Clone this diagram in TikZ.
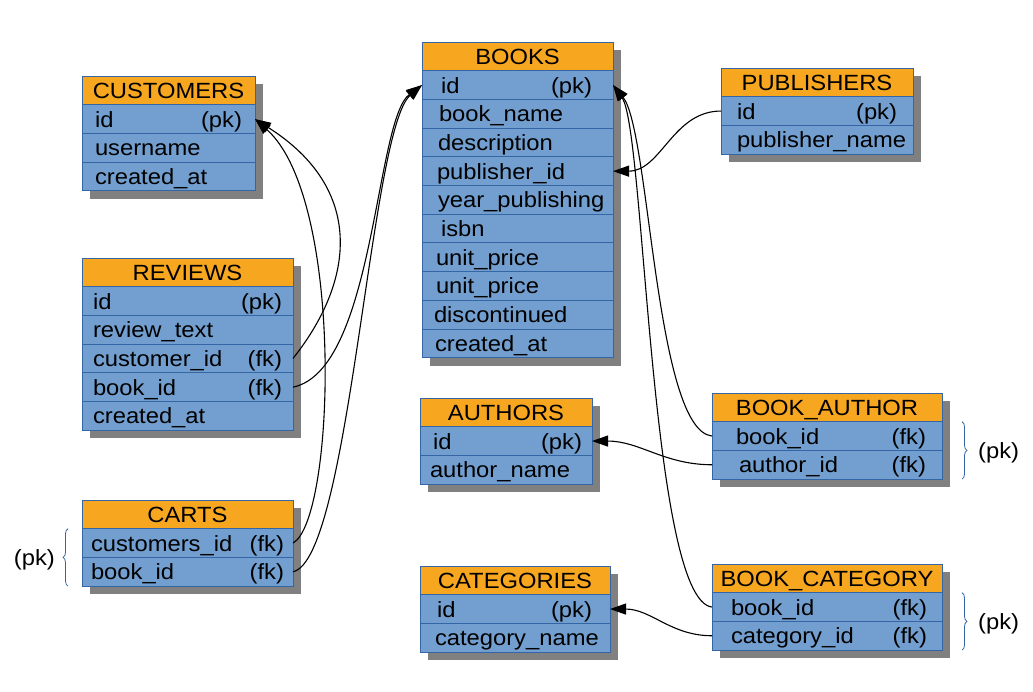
\documentclass[tikz,border=0pt]{standalone}
\usepackage{fontspec}
\setmainfont{Liberation Sans}[FakeStretch=1.08]
\usetikzlibrary{positioning,arrows.meta,backgrounds,decorations.pathreplacing}

\definecolor{hdrorange}{RGB}{247,166,32}
\definecolor{rowblue}{RGB}{114,159,207}
\definecolor{tblborder}{RGB}{52,101,164}
\definecolor{shadowgray}{RGB}{128,128,128}

% no hyphenation inside the table cells
\hyphenpenalty=10000
\exhyphenpenalty=10000

% field name on the left, key mark on the right
\newcommand{\fld}[2]{#1\nobreak\hskip 0pt plus 1filll\relax #2}
% grey drop shadow behind a whole table
\newcommand{\tblshadow}[2]{\fill[shadowgray] ([shift={(8,8)}]#1.north west) rectangle ([shift={(8,8)}]#2.south east);}

\tikzset{
  cell/.style={draw=tblborder, line width=0.9pt, outer sep=0pt, minimum height=28.7pt,
    inner ysep=0pt, text height=16pt, text depth=0pt, font=\fontsize{22}{26}\selectfont},
  hdr/.style={cell, fill=hdrorange, align=center},
  row/.style={cell, fill=rowblue, align=left},
  lbl/.style={inner sep=3pt, text height=16pt, text depth=0pt, font=\fontsize{22}{26}\selectfont},
  link/.style={line width=1.1pt, -{Triangle[length=16pt,width=11pt]}},
  pkbrace/.style={draw=tblborder, line width=0.8pt, decorate, decoration={brace, amplitude=5pt}},
}

\begin{document}
\begin{tikzpicture}[x=1pt, y=-1pt]
\useasboundingbox (0,0) rectangle (1033,692);

% customers
\begin{scope}[row/.append style={inner xsep=13pt, text width=147pt}]
\node[hdr, minimum width=173pt, anchor=north west] (cust) at (82,76) {CUSTOMERS};
\node[row, below=0pt of cust] (cust-id) {\fld{id}{(pk)}};
\node[row, below=0pt of cust-id] (cust-user) {username};
\node[row, below=0pt of cust-user] (cust-created) {created\_at};
\end{scope}

% reviews
\begin{scope}[row/.append style={inner xsep=11pt, text width=189pt}]
\node[hdr, minimum width=211pt, anchor=north west] (rev) at (82,258) {REVIEWS};
\node[row, below=0pt of rev] (rev-id) {\fld{id}{(pk)}};
\node[row, below=0pt of rev-id] (rev-text) {review\_text};
\node[row, below=0pt of rev-text] (rev-cust) {\fld{customer\_id}{(fk)}};
\node[row, below=0pt of rev-cust] (rev-book) {\fld{book\_id}{(fk)}};
\node[row, below=0pt of rev-book] (rev-created) {created\_at};
\end{scope}

% carts
\begin{scope}[row/.append style={inner xsep=9pt, text width=193pt}]
\node[hdr, minimum width=211pt, anchor=north west] (carts) at (82,500) {CARTS};
\node[row, below=0pt of carts] (carts-cust) {\fld{customers\_id}{(fk)}};
\node[row, below=0pt of carts-cust] (carts-book) {\fld{book\_id}{(fk)}};
\end{scope}

% books
\begin{scope}[row/.append style={inner xsep=11pt, text width=169pt}]
\node[hdr, minimum width=191pt, anchor=north west] (books) at (422,42) {BOOKS};
\node[row, below=0pt of books] (books-id) {\fld{\hspace*{8pt}id}{(pk)\kern10pt}};
\node[row, below=0pt of books-id] (books-name) {\hspace*{6pt}book\_name};
\node[row, below=0pt of books-name] (books-desc) {\hspace*{5pt}description};
\node[row, below=0pt of books-desc] (books-pub) {\hspace*{4pt}publisher\_id};
\node[row, below=0pt of books-pub] (books-year) {\hspace*{5pt}year\_publishing};
\node[row, below=0pt of books-year] (books-isbn) {\hspace*{8pt}isbn};
\node[row, below=0pt of books-isbn] (books-price) {\hspace*{3pt}unit\_price};
\node[row, below=0pt of books-price] (books-price2) {\hspace*{3pt}unit\_price};
\node[row, below=0pt of books-price2] (books-disc) {\hspace*{1pt}discontinued};
\node[row, below=0pt of books-disc] (books-created) {\hspace*{2pt}created\_at};
\end{scope}

% publishers
\begin{scope}[row/.append style={inner xsep=11pt, text width=170pt}]
\node[hdr, minimum width=192pt, anchor=north west] (pub) at (721,68) {PUBLISHERS};
\node[row, below=0pt of pub] (pub-id) {\fld{\hspace*{5pt}id}{(pk)\kern5pt}};
\node[row, below=0pt of pub-id] (pub-name) {\hspace*{5pt}publisher\_name};
\end{scope}

% authors
\begin{scope}[row/.append style={inner xsep=10pt, text width=152pt}]
\node[hdr, minimum width=172pt, anchor=north west] (auth) at (420,398) {AUTHORS};
\node[row, below=0pt of auth] (auth-id) {\fld{\hspace*{3pt}id}{(pk)}};
\node[row, below=0pt of auth-id] (auth-name) {author\_name};
\end{scope}

% book_author
\begin{scope}[row/.append style={inner xsep=16pt, text width=198pt}]
\node[hdr, minimum width=230pt, anchor=north west] (ba) at (712,393) {BOOK\_AUTHOR};
\node[row, below=0pt of ba] (ba-book) {\fld{\hspace*{8pt}book\_id}{(fk)}};
\node[row, below=0pt of ba-book] (ba-auth) {\fld{\hspace*{11pt}author\_id}{(fk)}};
\end{scope}

% categories
\begin{scope}[row/.append style={inner xsep=12pt, text width=166pt}]
\node[hdr, minimum width=190pt, anchor=north west] (cat) at (420,566) {CATEGORIES};
\node[row, below=0pt of cat] (cat-id) {\fld{\hspace*{5pt}id}{(pk)\kern6pt}};
\node[row, below=0pt of cat-id] (cat-name) {\hspace*{3pt}category\_name};
\end{scope}

% book_category
\begin{scope}[row/.append style={inner xsep=15pt, text width=200pt}]
\node[hdr, minimum width=230pt, anchor=north west] (bc) at (712,564) {BOOK\_CATEGORY};
\node[row, below=0pt of bc] (bc-book) {\fld{\hspace*{4pt}book\_id}{(fk)}};
\node[row, below=0pt of bc-book] (bc-cat) {\fld{\hspace*{4pt}category\_id}{(fk)}};
\end{scope}

\begin{scope}[on background layer]
\tblshadow{cust}{cust-created}
\tblshadow{rev}{rev-created}
\tblshadow{carts}{carts-book}
\tblshadow{books}{books-created}
\tblshadow{pub}{pub-name}
\tblshadow{auth}{auth-name}
\tblshadow{ba}{ba-auth}
\tblshadow{cat}{cat-name}
\tblshadow{bc}{bc-cat}
\end{scope}

% composite keys
\draw[pkbrace] ([xshift=-14pt]carts-book.south west) -- ([xshift=-14pt]carts-cust.north west);
\node[lbl, anchor=east] (carts-pk) at ([xshift=-24pt]carts-cust.south west) {(pk)};
\draw[pkbrace] ([xshift=20pt]ba-book.north east) -- ([xshift=20pt]ba-auth.south east);
\node[lbl, anchor=west] (ba-pk) at ([xshift=33pt]ba-book.south east) {(pk)};
\draw[pkbrace] ([xshift=20pt]bc-book.north east) -- ([xshift=20pt]bc-cat.south east);
\node[lbl, anchor=west] (bc-pk) at ([xshift=33pt]bc-book.south east) {(pk)};

% references
\draw[link] (rev-cust.east) .. controls +(62,-78) and +(110,70) .. (cust-id.east);
\draw[link] (carts-cust.east) .. controls +(42,-23) and +(90,80) .. (cust-id.east);
\draw[link] (rev-book.east) .. controls +(82,-17) and +(-47,35) .. (books-id.west);
\draw[link] (carts-book.east) .. controls +(57,-12) and +(-52,45) .. (books-id.west);
\draw[link] (pub-id.west) to[out=180, in=0] (books-pub.east);
\draw[link] (ba-book.west) .. controls +(-57,-6) and +(37,45) .. (books-id.east);
\draw[link] (bc-book.west) .. controls +(-62,-7) and +(32,45) .. (books-id.east);
\draw[link] (ba-auth.west) to[out=180, in=0] (auth-id.east);
\draw[link] (bc-cat.west) to[out=180, in=0] (cat-id.east);

\end{tikzpicture}
\end{document}
